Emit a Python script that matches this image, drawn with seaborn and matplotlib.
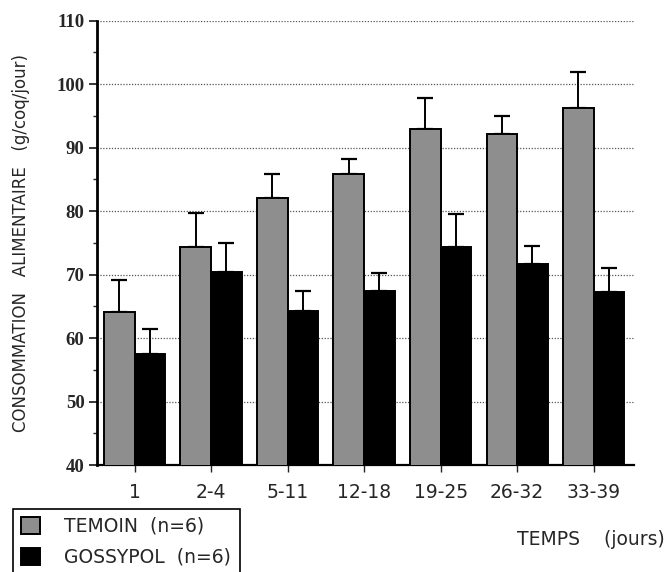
import numpy as np
import pandas as pd
import matplotlib
matplotlib.use("Agg")
import matplotlib.pyplot as plt
from matplotlib.ticker import MultipleLocator
import seaborn as sns

periods = ["1", "2-4", "5-11", "12-18", "19-25", "26-32", "33-39"]
temoin = [64.1, 74.4, 82.0, 85.8, 92.9, 92.2, 96.3]
temoin_err = [5.1, 5.3, 3.8, 2.4, 4.9, 2.7, 5.6]
gossypol = [57.5, 70.4, 64.2, 67.4, 74.4, 71.6, 67.3]
gossypol_err = [4.0, 4.5, 3.2, 2.8, 5.1, 2.9, 3.7]
groups = ["TEMOIN  (n=6)", "GOSSYPOL  (n=6)"]

df = pd.DataFrame({
    "period": periods * 2,
    "value": temoin + gossypol,
    "group": [groups[0]] * len(periods) + [groups[1]] * len(periods),
})
errs = [temoin_err, gossypol_err]

sns.set_style("white")
plt.rcParams["font.family"] = ["DejaVu Sans"]

fig = plt.figure(figsize=(6.69, 5.72), dpi=100)
ax = fig.add_axes([0.145, 0.187, 0.803, 0.777])

sns.barplot(data=df, x="period", y="value", hue="group", order=periods,
            hue_order=groups, palette=["#8e8e8e", "#000000"],
            edgecolor="black", linewidth=1.4, errorbar=None, width=0.8,
            saturation=1, ax=ax, zorder=3)

for cont, err in zip(ax.containers, errs):
    xs = [p.get_x() + p.get_width() / 2 for p in cont.patches]
    hs = [p.get_height() for p in cont.patches]
    ax.errorbar(xs, hs, yerr=[np.zeros(len(err)), err], fmt="none",
                ecolor="black", elinewidth=1.4, capsize=5.8, capthick=1.6,
                zorder=2)

ax.set_ylim(40, 110)
ax.set_xlim(-0.49, 6.53)
ax.yaxis.set_major_locator(MultipleLocator(10))
ax.yaxis.set_minor_locator(MultipleLocator(5))
for yv in range(50, 111, 10):
    ax.axhline(yv, color="#555555", linestyle=(0, (1.0, 1.3)), linewidth=0.9,
               zorder=1)

for s in ["top", "right"]:
    ax.spines[s].set_visible(False)
ax.spines["left"].set_linewidth(2.0)
ax.spines["bottom"].set_linewidth(1.6)
ax.spines["left"].set_color("black")
ax.spines["bottom"].set_color("black")

ax.tick_params(axis="y", which="major", direction="out", length=6, width=1.3,
               left=True, pad=3)
ax.tick_params(axis="y", which="minor", direction="out", length=3, width=1.0,
               left=True)
ax.tick_params(axis="x", direction="out", length=5, width=1.0, bottom=True,
               pad=8)
ax.set_yticks(range(40, 111, 10))
ax.set_yticklabels([str(v) for v in range(40, 111, 10)],
                   fontfamily="Liberation Serif", fontweight="bold",
                   fontsize=13.5)
ax.set_xticks(range(len(periods)))
ax.set_xticklabels(periods, fontsize=13.5)

ax.set_xlabel("")
ax.set_ylabel("CONSOMMATION   ALIMENTAIRE   (g/coq/jour)", fontsize=12)
ax.yaxis.set_label_coords(-0.125, 0.50)

fig.text(0.994, 0.056, "TEMPS    (jours)", ha="right", va="center",
         fontsize=13.5)

handles, labels = ax.get_legend_handles_labels()
ax.get_legend().remove()
leg = fig.legend(handles, labels, loc="upper left",
                 bbox_to_anchor=(0.019, 0.111), fontsize=13.5, frameon=True,
                 fancybox=False, edgecolor="black", framealpha=1,
                 handlelength=1.0, handleheight=1.0, handletextpad=1.3,
                 borderpad=0.45, labelspacing=0.62, borderaxespad=0)
leg.get_frame().set_linewidth(1.2)

fig.savefig("out.png", dpi=100)
